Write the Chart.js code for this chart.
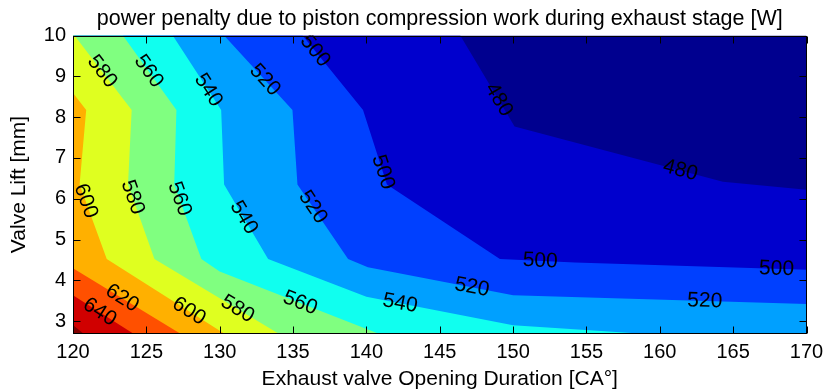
<!DOCTYPE html>
<html>
<head>
<meta charset="utf-8">
<title>Power penalty contour</title>
<script src="https://cdn.jsdelivr.net/npm/chart.js@4.4.1/dist/chart.umd.min.js"></script>
<style>
  html, body { margin: 0; padding: 0; background: #ffffff; }
  #c { display: block; }
</style>
</head>
<body>
<canvas id="c" width="826" height="392"></canvas>
<script>
// Axis extents and tick labels
const durationRange = [120, 170];          // exhaust valve opening duration [CA deg]
const liftRange = [2.7, 10];               // valve lift [mm]
const durationTicks = [120, 125, 130, 135, 140, 145, 150, 155, 160, 165, 170];
const liftTicks = [3, 4, 5, 6, 7, 8, 9, 10];

// Contour levels of the power penalty [W]
const levels = [480, 500, 520, 540, 560, 580, 600, 620, 640, 660];

// Iso-lines, each running from the top/left edge to the right/bottom edge: [duration, lift]
const iso480 = [[146.4, 10], [150.1, 7.77], [164.3, 6.42], [170, 6.22]];
const iso500 = [[135.65, 10], [139.77, 8.175], [141.4, 6.35], [149.1, 4.525], [154.2, 4.44], [170, 4.26]];
const iso520 = [[130.3, 10], [134.96, 8.175], [135.3, 6.35], [138.75, 4.525], [140.1, 4.32], [150, 3.64], [170, 3.42]];
const iso540 = [[126.8, 10], [130.1, 8.175], [130.3, 6.35], [133.3, 4.525], [140, 3.6], [150, 2.9], [158.6, 2.7]];
const iso560 = [[123.4, 10], [127.05, 8.175], [126.9, 6.35], [128.75, 4.525], [130, 4.22], [140.8, 2.7]];
const iso580 = [[120.1, 10], [124, 8.175], [123.75, 6.35], [125.55, 4.525], [134, 2.7]];
const iso600 = [[120, 8.59], [120.9, 8.175], [120.45, 6.35], [122.3, 4.525], [130.3, 2.7]];
const iso620 = [[120, 4.3], [127.3, 2.7]];
const iso640 = [[120, 3.64], [124.1, 2.7]];
const iso660 = [[120, 2.91], [120.7, 2.7]];
const isolines = [iso480, iso500, iso520, iso540, iso560, iso580, iso600, iso620, iso640, iso660];

// Inline level labels: [level, duration, lift]
const contourLabels = [
  [640, 121.70, 3.16], [620, 123.27, 3.52], [600, 127.82, 3.20], [580, 131.11, 3.24],
  [560, 135.43, 3.40], [540, 142.25, 3.36], [520, 147.16, 3.77], [500, 151.84, 4.41],
  [500, 167.95, 4.22], [520, 163.06, 3.42], [480, 161.36, 6.63], [480, 148.63, 8.34],
  [500, 140.91, 6.63], [500, 136.59, 9.65], [520, 132.95, 8.87], [540, 129.09, 8.63],
  [560, 125.00, 9.08], [580, 121.70, 9.04], [600, 120.75, 5.93], [580, 123.87, 6.01],
  [560, 127.05, 5.97], [540, 131.36, 5.48], [520, 136.25, 5.77]
];

// Band colours (jet), lowest band first
const bandColors = ['#00008F', '#0000CD', '#0040FF', '#00A0FF', '#10FFEF',
                    '#80FF80', '#DFFF20', '#FFB000', '#FF5000', '#D00000', '#800000'];

const FONT = "'Liberation Sans', Arial, Helvetica, sans-serif";

// Region where the penalty is at or above a level: the iso-line closed
// through the lower-left corners of the domain.
function regionPolygon(line) {
  const pts = line.map(([x, y]) => ({ x, y }));
  const start = line[0];
  const end = line[line.length - 1];
  if (end[0] === durationRange[1]) pts.push({ x: durationRange[1], y: liftRange[0] });
  pts.push({ x: durationRange[0], y: liftRange[0] });
  if (start[1] === liftRange[1]) pts.push({ x: durationRange[0], y: liftRange[1] });
  return pts;
}

const fullDomain = [
  { x: durationRange[0], y: liftRange[0] }, { x: durationRange[1], y: liftRange[0] },
  { x: durationRange[1], y: liftRange[1] }, { x: durationRange[0], y: liftRange[1] }
];

const bandStyle = (color, order) => ({
  backgroundColor: color,
  borderColor: 'rgba(0,0,0,0)',
  borderWidth: 0,
  pointRadius: 0,
  pointHoverRadius: 0,
  tension: 0,
  fill: 'shape',
  order: order
});

const datasets = [
  Object.assign({ label: '< ' + levels[0], data: fullDomain }, bandStyle(bandColors[0], levels.length + 1))
];
levels.forEach((lv, i) => {
  datasets.push(Object.assign({ label: '>= ' + lv, data: regionPolygon(isolines[i]) },
                              bandStyle(bandColors[i + 1], levels.length - i)));
});

// Labels, inward tick marks and the axes box
const contourDecor = {
  id: 'contourDecor',
  afterDatasetsDraw(chart) {
    const { ctx, chartArea: a, scales: { x, y } } = chart;

    // level labels, aligned with their iso-line
    ctx.save();
    ctx.beginPath();
    ctx.rect(a.left, a.top, a.right - a.left, a.bottom - a.top);
    ctx.clip();
    ctx.font = '21px ' + FONT;
    ctx.fillStyle = '#000';
    ctx.textAlign = 'center';
    ctx.textBaseline = 'middle';
    contourLabels.forEach(([lv, dx, dy]) => {
      const line = isolines[levels.indexOf(lv)].map(([u, v]) => [x.getPixelForValue(u), y.getPixelForValue(v)]);
      const px = x.getPixelForValue(dx), py = y.getPixelForValue(dy);
      let best = null;
      for (let k = 0; k < line.length - 1; k++) {
        const [x1, y1] = line[k], [x2, y2] = line[k + 1];
        const sx = x2 - x1, sy = y2 - y1;
        const len2 = sx * sx + sy * sy;
        let t = len2 ? ((px - x1) * sx + (py - y1) * sy) / len2 : 0;
        t = Math.max(0, Math.min(1, t));
        const qx = x1 + t * sx, qy = y1 + t * sy;
        const d = (qx - px) ** 2 + (qy - py) ** 2;
        if (!best || d < best.d) best = { d, qx, qy, ang: Math.atan2(sy, sx) };
      }
      let ang = best.ang;
      if (ang > Math.PI / 2) ang -= Math.PI;
      if (ang <= -Math.PI / 2) ang += Math.PI;
      ctx.save();
      ctx.translate(best.qx, best.qy);
      ctx.rotate(ang);
      ctx.fillText(String(lv), 0, 0);
      ctx.restore();
    });
    ctx.restore();

    // tick marks pointing into the plot on all four sides
    const L = Math.round(a.left) + 0.5, R = Math.round(a.right) - 0.5;
    const T = Math.round(a.top) + 0.5, B = Math.round(a.bottom) - 0.5;
    const tl = 7;
    ctx.save();
    ctx.strokeStyle = '#000';
    ctx.lineWidth = 1;
    ctx.beginPath();
    durationTicks.forEach(v => {
      const p = Math.round(x.getPixelForValue(v)) + 0.5;
      ctx.moveTo(p, B); ctx.lineTo(p, B - tl);
      ctx.moveTo(p, T); ctx.lineTo(p, T + tl);
    });
    liftTicks.forEach(v => {
      const p = Math.round(y.getPixelForValue(v)) + 0.5;
      ctx.moveTo(L, p); ctx.lineTo(L + tl, p);
      ctx.moveTo(R, p); ctx.lineTo(R - tl, p);
    });
    ctx.stroke();
    ctx.strokeRect(L, T, R - L, B - T);
    ctx.restore();
  }
};

Chart.defaults.font.family = FONT;
Chart.defaults.color = '#000';

new Chart(document.getElementById('c'), {
  type: 'line',
  data: { datasets },
  plugins: [contourDecor],
  options: {
    responsive: false,
    devicePixelRatio: 1,
    animation: false,
    events: [],
    layout: { padding: { left: 0, right: 19.5, top: 0, bottom: 0 } },
    plugins: {
      legend: { display: false },
      tooltip: { enabled: false },
      title: {
        display: true,
        fullSize: false,
        text: 'power penalty due to piston compression work during exhaust stage [W]',
        color: '#000',
        font: { size: 21.5, weight: 'normal', family: FONT, lineHeight: 1.2 },
        padding: { top: 6.3, bottom: 3.4 }
      }
    },
    scales: {
      x: {
        type: 'linear',
        position: 'bottom',
        min: durationRange[0],
        max: durationRange[1],
        afterBuildTicks: s => { s.ticks = durationTicks.map(v => ({ value: v })); },
        afterFit: s => { s.height = 58.5; s.paddingLeft = 0; s.paddingRight = 0; },
        grid: { display: false, drawTicks: false },
        border: { display: false },
        ticks: {
          autoSkip: false, maxRotation: 0, padding: 7,
          color: '#000', font: { size: 20, family: FONT },
          callback: v => String(v)
        },
        title: {
          display: true,
          text: 'Exhaust valve Opening Duration [CA°]',
          color: '#000',
          font: { size: 21, family: FONT, lineHeight: 1.2 },
          padding: { top: 0, bottom: 0 }
        }
      },
      y: {
        type: 'linear',
        position: 'left',
        min: liftRange[0],
        max: liftRange[1],
        afterBuildTicks: s => { s.ticks = liftTicks.map(v => ({ value: v })); },
        afterFit: s => { s.width = 73; s.paddingTop = 0; s.paddingBottom = 0; },
        grid: { display: false, drawTicks: false },
        border: { display: false },
        ticks: {
          autoSkip: false, padding: 7,
          color: '#000', font: { size: 20, family: FONT },
          callback: v => String(v)
        },
        title: {
          display: true,
          text: 'Valve Lift [mm]',
          color: '#000',
          font: { size: 21, family: FONT, lineHeight: 1.2 },
          padding: { top: 7, bottom: 0 }
        }
      }
    }
  }
});
</script>
</body>
</html>
